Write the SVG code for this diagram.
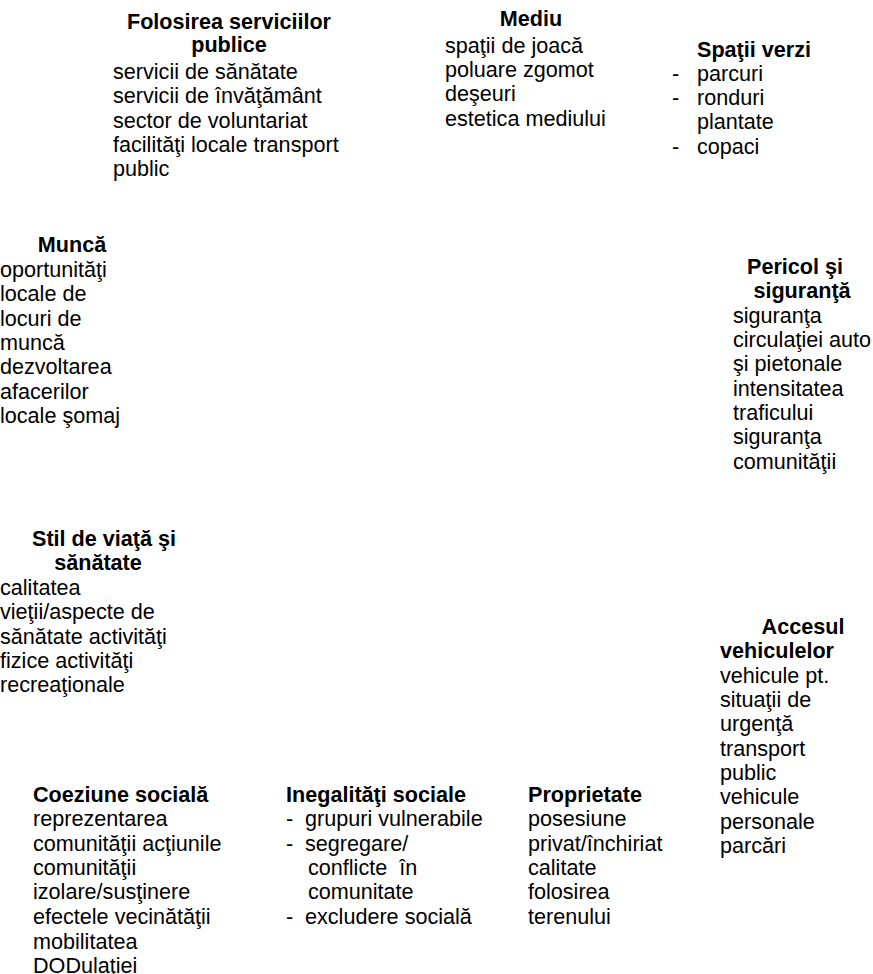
<svg xmlns="http://www.w3.org/2000/svg" width="873" height="974" viewBox="0 0 873 974">
<style>
text{font-family:"Liberation Sans",Arial,sans-serif;font-size:21.6px;fill:#000}
.h{font-weight:bold}
.c{text-anchor:middle}
</style>
<rect width="873" height="974" fill="#fff"/>
<g id="folosirea">
<text class="h c" x="229" y="29">Folosirea serviciilor</text>
<text class="h c" x="229" y="52">publice</text>
<text x="113" y="79">servicii de sănătate</text>
<text x="113" y="103">servicii de învăţământ</text>
<text x="113" y="128">sector de voluntariat</text>
<text x="113" y="152">facilităţi locale transport</text>
<text x="113" y="176">public</text>
</g>
<g id="mediu">
<text class="h c" x="531" y="26">Mediu</text>
<text x="445" y="53">spaţii de joacă</text>
<text x="445" y="77">poluare zgomot</text>
<text x="445" y="101">deşeuri</text>
<text x="445" y="126">estetica mediului</text>
</g>
<g id="spatii-verzi">
<text class="h" x="697" y="57">Spaţii verzi</text>
<text x="672" y="81">-</text><text x="697" y="81">parcuri</text>
<text x="672" y="105">-</text><text x="697" y="105">ronduri</text>
<text x="697" y="129">plantate</text>
<text x="672" y="154">-</text><text x="697" y="154">copaci</text>
</g>
<g id="munca">
<text class="h c" x="72" y="252">Muncă</text>
<text x="0" y="277">oportunităţi</text>
<text x="0" y="301">locale de</text>
<text x="0" y="326">locuri de</text>
<text x="0" y="350">muncă</text>
<text x="0" y="374">dezvoltarea</text>
<text x="0" y="399">afacerilor</text>
<text x="0" y="423">locale şomaj</text>
</g>
<g id="pericol">
<text class="h c" x="795" y="274">Pericol şi</text>
<text class="h c" x="802" y="298">siguranţă</text>
<text x="733" y="323">siguranţa</text>
<text x="733" y="347">circulaţiei auto</text>
<text x="733" y="371">şi pietonale</text>
<text x="733" y="396">intensitatea</text>
<text x="733" y="420">traficului</text>
<text x="733" y="444">siguranţa</text>
<text x="733" y="469">comunităţii</text>
</g>
<g id="stil">
<text class="h c" x="104" y="546">Stil de viaţă şi</text>
<text class="h c" x="98" y="570">sănătate</text>
<text x="0" y="595">calitatea</text>
<text x="0" y="619">vieţii/aspecte de</text>
<text x="0" y="644">sănătate activităţi</text>
<text x="0" y="668">fizice activităţi</text>
<text x="0" y="692">recreaţionale</text>
</g>
<g id="accesul">
<text class="h c" x="803" y="634">Accesul</text>
<text class="h" x="720" y="658">vehiculelor</text>
<text x="720" y="683">vehicule pt.</text>
<text x="720" y="707">situaţii de</text>
<text x="720" y="731">urgenţă</text>
<text x="720" y="756">transport</text>
<text x="720" y="780">public</text>
<text x="720" y="804">vehicule</text>
<text x="720" y="829">personale</text>
<text x="720" y="853">parcări</text>
</g>
<g id="coeziune">
<text class="h" x="33" y="802">Coeziune socială</text>
<text x="33" y="826">reprezentarea</text>
<text x="33" y="851">comunităţii acţiunile</text>
<text x="33" y="875">comunităţii</text>
<text x="33" y="899">izolare/susţinere</text>
<text x="33" y="924">efectele vecinătăţii</text>
<text x="33" y="949">mobilitatea</text>
<text x="33" y="973">DODulaţiei</text>
</g>
<g id="inegalitati">
<text class="h" x="286" y="802">Inegalităţi sociale</text>
<text x="286" y="826">-</text><text x="305" y="826">grupuri vulnerabile</text>
<text x="286" y="851">-</text><text x="305" y="851">segregare/</text>
<text x="308" y="875">conflicte&#160; în</text>
<text x="308" y="899">comunitate</text>
<text x="286" y="924">-</text><text x="305" y="924">excludere socială</text>
</g>
<g id="proprietate">
<text class="h" x="528" y="802">Proprietate</text>
<text x="528" y="826">posesiune</text>
<text x="528" y="851">privat/închiriat</text>
<text x="528" y="875">calitate</text>
<text x="528" y="899">folosirea</text>
<text x="528" y="924">terenului</text>
</g>
<g id="connectors"></g>
</svg>
